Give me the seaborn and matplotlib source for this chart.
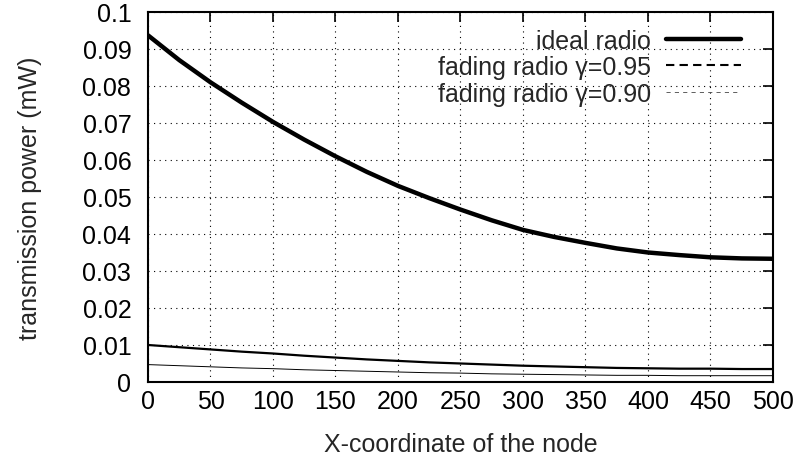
import numpy as np
import pandas as pd
import matplotlib
matplotlib.use("Agg")
import matplotlib.pyplot as plt
from matplotlib.lines import Line2D
from matplotlib.ticker import FuncFormatter, MultipleLocator
import seaborn as sns

# node x-coordinate and transmission power per radio model
x_coord = [0, 25, 50, 75, 100, 125, 150, 175, 200, 225, 250, 275, 300,
           325, 350, 375, 400, 425, 450, 475, 500]
ideal = [0.0937, 0.0870, 0.0810, 0.0755, 0.0703, 0.0655, 0.0610, 0.0568,
         0.0530, 0.0497, 0.0466, 0.0437, 0.0411, 0.0392, 0.0376, 0.0361,
         0.0350, 0.0343, 0.0337, 0.0334, 0.0333]
fading_095 = [0.0100, 0.0094, 0.0088, 0.0082, 0.0077, 0.0071, 0.0066, 0.0061,
              0.0057, 0.0053, 0.0050, 0.0047, 0.0044, 0.0042, 0.0040, 0.0038,
              0.0037, 0.0036, 0.0036, 0.0035, 0.0035]
fading_090 = [0.0047, 0.0044, 0.0041, 0.0038, 0.0036, 0.0033, 0.0031, 0.0029,
              0.0027, 0.0025, 0.0024, 0.0022, 0.0021, 0.0020, 0.0019, 0.0018,
              0.0018, 0.0017, 0.0017, 0.0017, 0.0017]
labels = ["ideal radio", "fading radio \u03b3=0.95", "fading radio \u03b3=0.90"]

df = pd.DataFrame({"x": x_coord * 3,
                   "power": ideal + fading_095 + fading_090,
                   "radio": [labels[0]] * len(x_coord)
                            + [labels[1]] * len(x_coord)
                            + [labels[2]] * len(x_coord)})

sns.set_theme(style="white")
plt.rcParams["font.family"] = ["Liberation Sans", "DejaVu Sans"]
FS = 18

fig = plt.figure(figsize=(8.03, 4.64), dpi=100)
ax = fig.add_axes([0.1843, 0.1746, 0.7783, 0.7974])

widths = {labels[0]: 3.2, labels[1]: 1.6, labels[2]: 0.7}
for name in labels:
    sns.lineplot(data=df[df["radio"] == name], x="x", y="power", ax=ax,
                 color="black", linewidth=widths[name], legend=False)

ax.set_xlim(0, 500)
ax.set_ylim(0, 0.1)
ax.xaxis.set_major_locator(MultipleLocator(50))
ax.yaxis.set_major_locator(MultipleLocator(0.01))
ax.yaxis.set_major_formatter(FuncFormatter(lambda v, p: f"{v:.2f}".rstrip("0").rstrip(".") if v else "0"))

ax.grid(True, color="black", linestyle=(0, (1, 4)), linewidth=0.8)
ax.tick_params(direction="in", length=7, width=1.2, top=True, right=True,
               labelsize=FS, colors="black")
ax.tick_params(axis="y", pad=12)
ax.tick_params(axis="x", pad=5)
for s in ax.spines.values():
    s.set_color("black")
    s.set_linewidth(1.5)

ax.set_xlabel("X-coordinate of the node", fontsize=FS, labelpad=14)
ax.set_ylabel("transmission power (mW)", fontsize=FS, labelpad=29)

handles = [Line2D([], [], color="black", linewidth=3.2),
           Line2D([], [], color="black", linewidth=1.5, linestyle=(0, (4, 2.5))),
           Line2D([], [], color="#444444", linewidth=0.6, linestyle=(0, (5, 5)))]
leg = ax.legend(handles, labels, loc="upper right", frameon=False,
                bbox_to_anchor=(0.965, 0.982),
                markerfirst=False, fontsize=FS, handlelength=3.0,
                labelspacing=0.1, borderaxespad=0.0, handletextpad=0.6)

fig.savefig("out.png", dpi=100, facecolor="white")
